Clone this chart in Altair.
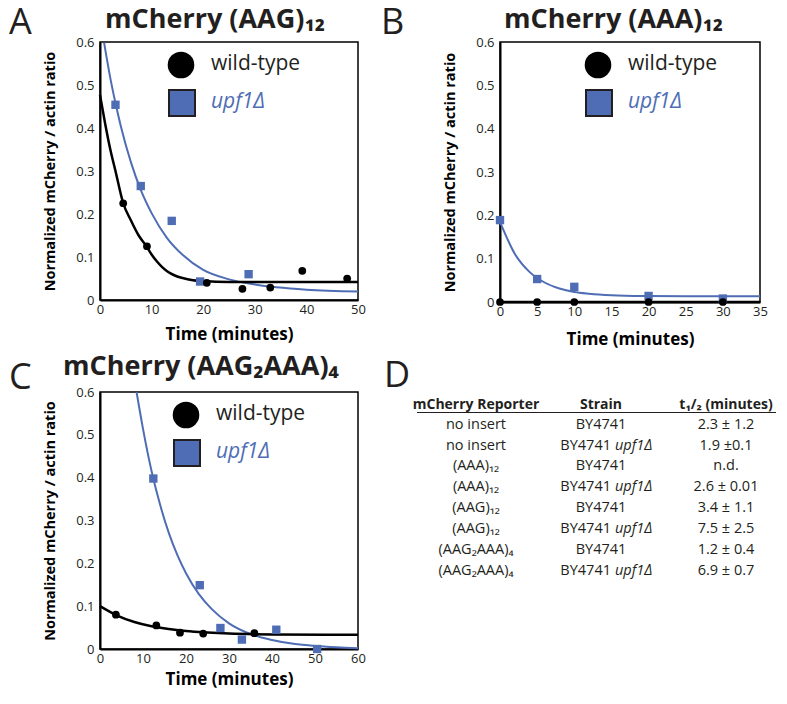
import altair as alt
import pandas as pd

FONT = "Open Sans"
BLUE = "#4f6db5"
DARK = "#231f20"

# ---------------- Panel A : mCherry (AAG)12 ----------------
a_wt_t = [4.5, 9.1, 20.7, 27.6, 33.0, 39.2, 47.9]
a_wt_y = [0.225, 0.125, 0.040, 0.026, 0.029, 0.068, 0.050]
a_up_t = [3.0, 7.9, 13.9, 19.4, 28.8]
a_up_y = [0.454, 0.265, 0.184, 0.043, 0.060]
a_wtfit_t = [0, 1, 2, 3, 4.5, 6, 7.5, 9, 10, 11, 12, 13, 14.5, 16, 18, 20, 25, 30, 40, 50]
a_wtfit_y = [0.477, 0.41, 0.35, 0.30, 0.225, 0.185, 0.15, 0.125, 0.106, 0.090, 0.077, 0.067,
             0.057, 0.051, 0.046, 0.044, 0.042, 0.042, 0.042, 0.042]
a_upfit_t = [0.8, 2, 3, 4, 6, 8, 10, 13, 16, 20, 25, 30, 40, 50]
a_upfit_y = [0.598, 0.516, 0.458, 0.406, 0.320, 0.253, 0.202, 0.144, 0.105, 0.070, 0.048,
             0.036, 0.024, 0.020]

# ---------------- Panel B : mCherry (AAA)12 ----------------
b_wt_t = [0, 5, 10, 20, 30]
b_wt_y = [0, 0, 0, 0, 0]
b_up_t = [0, 5, 10, 20, 30]
b_up_y = [0.189, 0.053, 0.035, 0.014, 0.008]
b_wtfit_t = [0, 35]
b_wtfit_y = [0, 0]
b_upfit_t = [0, 2, 4, 6, 8, 10, 12, 15, 20, 25, 35]
b_upfit_y = [0.185, 0.111, 0.069, 0.045, 0.031, 0.023, 0.019, 0.0156, 0.0136, 0.013, 0.013]

# ---------------- Panel C : mCherry (AAG2AAA)4 ----------------
c_wt_t = [3.7, 13.1, 18.6, 24.0, 35.9]
c_wt_y = [0.080, 0.055, 0.038, 0.036, 0.037]
c_up_t = [12.4, 23.2, 28.0, 33.0, 41.0, 50.5]
c_up_y = [0.398, 0.149, 0.049, 0.022, 0.045, 0.0]
c_wtfit_t = [0, 4, 8, 12, 16, 20, 25, 30, 40, 60]
c_wtfit_y = [0.100, 0.078, 0.063, 0.053, 0.0465, 0.042, 0.0385, 0.036, 0.034, 0.033]
c_upfit_t = [8.5, 10, 12, 14, 16, 18, 20, 23, 26, 30, 35, 40, 45, 50, 55, 60]
c_upfit_y = [0.6, 0.514, 0.415, 0.336, 0.271, 0.219, 0.177, 0.128, 0.093, 0.060, 0.035,
             0.021, 0.012, 0.007, 0.004, 0.002]

# ---------------- Table D ----------------
tbl_headers = ["mCherry Reporter", "Strain", "t₁/₂ (minutes)"]
tbl_reporter = ["no insert", "no insert", "(AAA)₁₂", "(AAA)₁₂", "(AAG)₁₂", "(AAG)₁₂",
                "(AAG₂AAA)₄", "(AAG₂AAA)₄"]
tbl_strain = ["BY4741"] * 8
tbl_mutant = ["", "upf1Δ", "", "upf1Δ", "", "upf1Δ", "", "upf1Δ"]
tbl_half = ["2.3 ± 1.2", "1.9 ±0.1", "n.d.", "2.6 ± 0.01", "3.4 ± 1.1", "7.5 ± 2.5",
            "1.2 ± 0.4", "6.9 ± 0.7"]

legend_labels = ["wild-type", "upf1Δ"]
y_ticks = [0, 0.1, 0.2, 0.3, 0.4, 0.5, 0.6]


def one(text):
    return pd.DataFrame({"txt": [text]})


def panel(letter, title, xmax, xstep, w, h, wt_t, wt_y, up_t, up_y,
          wtf_t, wtf_y, upf_t, upf_y, leg_x, title_x, title_y, title_size,
          letter_x, letter_y, xtitle_y):
    xaxis = alt.Axis(values=list(range(0, xmax + 1, xstep)), ticks=False, grid=False,
                     domainColor="black", domainWidth=2, labelFont=FONT, labelFontSize=13,
                     labelColor=DARK, labelPadding=3, labelFlush=False,
                     title="Time (minutes)", titleFont=FONT, titleFontSize=17,
                     titleFontWeight="bold", titleColor="black", titleY=xtitle_y,
                     titleBaseline="middle", titleX=w / 2)
    yaxis = alt.Axis(values=y_ticks, ticks=False, grid=False, domainColor="black",
                     domainWidth=2, labelFont=FONT, labelFontSize=13, labelColor=DARK,
                     labelPadding=6, labelFlush=False,
                     labelExpr="datum.value == 0 ? '0' : format(datum.value, '.1f')",
                     title="Normalized mCherry / actin ratio", titleFont=FONT,
                     titleFontSize=14.5, titleFontWeight="bold", titleColor="black",
                     titleX=-50, titleY=h / 2, titleBaseline="middle", titleAngle=-90)
    xs = alt.Scale(domain=[0, xmax], nice=False)
    ys = alt.Scale(domain=[0, 0.6], nice=False)
    X = alt.X("t:Q", scale=xs, axis=xaxis)
    Y = alt.Y("v:Q", scale=ys, axis=yaxis)

    wtf = pd.DataFrame({"t": wtf_t, "v": wtf_y})
    upf = pd.DataFrame({"t": upf_t, "v": upf_y})
    wt = pd.DataFrame({"t": wt_t, "v": wt_y})
    up = pd.DataFrame({"t": up_t, "v": up_y})

    layers = [
        alt.Chart(upf).mark_line(color=BLUE, strokeWidth=2, interpolate="monotone").encode(x=X, y=Y),
        alt.Chart(wtf).mark_line(color="black", strokeWidth=2.5, interpolate="monotone").encode(x=X, y=Y),
        alt.Chart(up).mark_square(color=BLUE, size=70, opacity=1).encode(x=X, y=Y),
        alt.Chart(wt).mark_circle(color="black", size=60, opacity=1).encode(x=X, y=Y),
        # legend
        alt.Chart(one(legend_labels[0])).mark_circle(color="black", size=707, opacity=1).encode(
            x=alt.value(leg_x), y=alt.value(23)),
        alt.Chart(one(legend_labels[1])).mark_square(color=BLUE, size=676, opacity=1,
                                                     stroke=DARK, strokeWidth=2).encode(
            x=alt.value(leg_x + 1), y=alt.value(61)),
        alt.Chart(one(legend_labels[0])).mark_text(font=FONT, fontSize=21, color=DARK,
                                                   align="left", baseline="middle").encode(
            x=alt.value(leg_x + 30), y=alt.value(22), text="txt:N"),
        alt.Chart(one(legend_labels[1])).mark_text(font=FONT, fontSize=21, color=BLUE,
                                                   fontStyle="italic", align="left",
                                                   baseline="middle").encode(
            x=alt.value(leg_x + 30), y=alt.value(60), text="txt:N"),
        # title and panel letter
        alt.Chart(one(title)).mark_text(font=FONT, fontSize=title_size, fontWeight="bold",
                                        color=DARK, align="left",
                                        baseline="alphabetic").encode(
            x=alt.value(title_x), y=alt.value(title_y), text="txt:N"),
        alt.Chart(one(letter)).mark_text(font=FONT, fontSize=36, color=DARK, align="left",
                                         baseline="alphabetic").encode(
            x=alt.value(letter_x), y=alt.value(letter_y), text="txt:N"),
    ]
    return alt.layer(*layers).properties(
        width=w, height=h,
        view=alt.ViewBackground(stroke="black", strokeWidth=1.5))


A = panel("A", "mCherry (AAG)₁₂", 50, 10, 258, 258, a_wt_t, a_wt_y, a_up_t, a_up_y,
          a_wtfit_t, a_wtfit_y, a_upfit_t, a_upfit_y, 81, 5, -14, 27, -91, -8, 34)
B = panel("B", "mCherry (AAA)₁₂", 35, 5, 260, 260, b_wt_t, b_wt_y, b_up_t, b_up_y,
          b_wtfit_t, b_wtfit_y, b_upfit_t, b_upfit_y, 98, 4, -14, 27, -119, -8, 37.7)
C = panel("C", "mCherry (AAG₂AAA)₄", 60, 10, 258, 257, c_wt_t, c_wt_y, c_up_t, c_up_y,
          c_wtfit_t, c_wtfit_y, c_upfit_t, c_upfit_y, 86, -37, -17, 27, -91, -3, 30)

# ---------------- Table D chart ----------------
rows = pd.DataFrame({"row": list(range(8)), "reporter": tbl_reporter, "strain": tbl_strain,
                     "mutant": tbl_mutant, "half": tbl_half})
hdr = pd.DataFrame({"col": [0, 1, 2], "txt": tbl_headers})
colx = alt.Scale(domain=[0, 2], range=[-24, 226])
rowy = alt.Scale(domain=[0, 7], range=[32.7, 178.7])
FS = 14.5

t_hdr = alt.Chart(hdr).mark_text(font=FONT, fontSize=14, fontWeight="bold", color=DARK,
                                 baseline="middle").encode(
    x=alt.X("col:Q", scale=colx, axis=None), y=alt.value(12.7), text="txt:N")
t_rule = alt.Chart(one("line")).mark_rule(color=DARK, strokeWidth=1).encode(
    x=alt.value(-83), x2=alt.value(276), y=alt.value(20.5))
base = alt.Chart(rows).transform_calculate(c0="0", c1="1", c2="2")
yrow = alt.Y("row:Q", scale=rowy, axis=None)
t_rep = base.mark_text(font=FONT, fontSize=FS, color=DARK, baseline="middle").encode(
    x=alt.X("c0:Q", scale=colx, axis=None), y=yrow, text="reporter:N")
t_str_plain = base.transform_filter("datum.mutant == ''").mark_text(
    font=FONT, fontSize=FS, color=DARK, baseline="middle").encode(
    x=alt.X("c1:Q", scale=colx, axis=None), y=yrow, text="strain:N")
t_str_mut1 = base.transform_filter("datum.mutant != ''").mark_text(
    font=FONT, fontSize=FS, color=DARK, baseline="middle", align="right", dx=10).encode(
    x=alt.X("c1:Q", scale=colx, axis=None), y=yrow, text="strain:N")
t_str_mut2 = base.transform_filter("datum.mutant != ''").mark_text(
    font=FONT, fontSize=FS, color=DARK, baseline="middle", align="left", dx=14,
    fontStyle="italic").encode(
    x=alt.X("c1:Q", scale=colx, axis=None), y=yrow, text="mutant:N")
t_half = base.mark_text(font=FONT, fontSize=FS, color=DARK, baseline="middle").encode(
    x=alt.X("c2:Q", scale=colx, axis=None), y=yrow, text="half:N")
t_letter = alt.Chart(one("D")).mark_text(font=FONT, fontSize=36, color=DARK, align="left",
                                         baseline="alphabetic").encode(
    x=alt.value(-116), y=alt.value(-5), text="txt:N")

D = alt.layer(t_hdr, t_rule, t_rep, t_str_plain, t_str_mut1, t_str_mut2, t_half,
              t_letter).properties(width=260, height=257,
                                   view=alt.ViewBackground(strokeWidth=0))

chart = alt.concat(A, B, C, D, columns=2, spacing={"row": 90, "column": 142},
                   bounds="flush").properties(
    padding={"left": 0, "top": -4, "right": 0, "bottom": 2}
).configure(font=FONT)

chart.save("out.html", embed_options={"renderer": "svg", "actions": False})
